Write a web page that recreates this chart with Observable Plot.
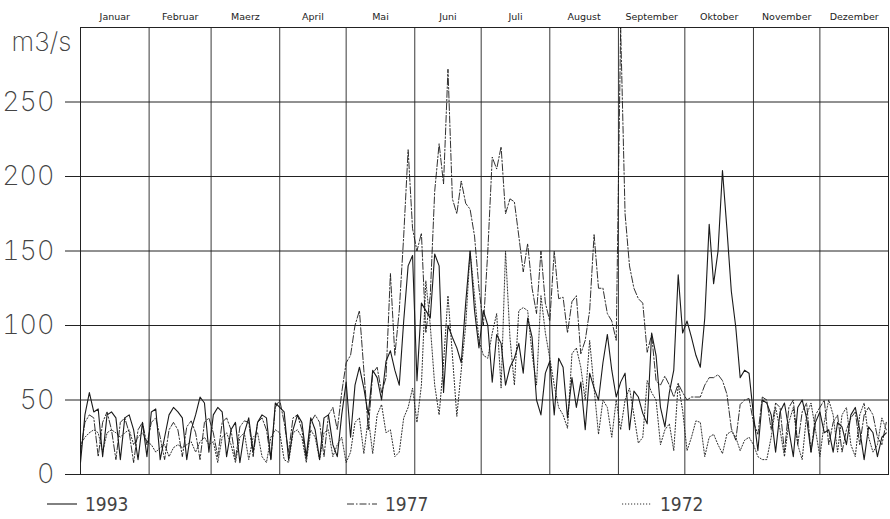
<!DOCTYPE html>
<html>
<head>
<meta charset="utf-8">
<script src="https://cdn.jsdelivr.net/npm/d3@7"></script>
<script src="https://cdn.jsdelivr.net/npm/@observablehq/plot@0.6"></script>
<style>
  html, body { margin: 0; padding: 0; background: #fff; }
  #wrap { position: relative; width: 890px; height: 519px; }
  #chart svg { display: block; }
  #legend { position: absolute; left: 0; top: 494px; width: 890px; height: 25px;
            font-family: "DejaVu Sans Condensed", "Liberation Sans Narrow", sans-serif; font-weight: 300; font-size: 19px; color: #444; }
  .item { position: absolute; top: 0px; height: 20px; line-height: 20px; display: flex; align-items: center; }
  .item svg { margin-right: 8px; }
</style>
</head>
<body>
<div id="wrap">
  <div id="chart"></div>
  <div id="legend"></div>
</div>
<script>
// Month names (top labels) and month start days (day of year)
const monthNames = ["Januar","Februar","Maerz","April","Mai","Juni","Juli","August","September","Oktober","November","Dezember"];
const monthStart = [0,31,59,90,120,151,181,212,243,273,304,334,365];
const yTicks = [0,50,100,150,200,250];
const gridY = [50,100,150,200,250,300];
const seriesNames = ["1993","1977","1972"];

const s1993 = [
  // Jan
  8,40,55,42,44,12,40,42,38,10,38,40,30,10,35,12,
  // Feb
  42,44,10,25,40,45,42,38,10,30,40,52,48,15,
  // Mar
  40,45,42,12,30,35,8,28,38,15,35,40,38,10,48,
  // Apr
  45,42,10,30,40,35,12,38,30,10,38,40,20,12,40,
  // May
  62,25,60,72,58,40,70,65,50,76,83,70,60,103,140,147,
  // Jun
  63,115,110,105,148,140,55,100,92,85,75,115,150,110,85,
  // Jul
  110,100,62,94,88,60,72,78,88,68,105,92,50,40,68,
  // Aug
  76,40,78,72,38,65,45,62,30,68,58,50,75,94,70,52,
  // Sep
  62,68,30,56,52,41,34,95,80,45,32,55,70,134,95,
  // Oct
  103,92,80,72,105,168,128,150,204,165,123,99,65,70,68,
  // Nov
  40,16,50,48,40,15,42,48,30,12,45,50,38,15,35,
  // Dec
  42,28,30,15,35,32,20,40,45,30,10,32,28,12,25,28
];
const s1977 = [
  15,35,40,38,12,35,42,30,10,35,38,28,8,30,35,20,
  35,38,25,10,30,35,30,12,32,36,28,10,35,38,
  28,12,35,38,30,10,32,36,35,12,35,38,30,10,45,
  50,35,15,38,40,30,10,35,40,35,12,40,45,30,55,
  75,80,100,110,70,30,68,72,55,65,135,80,110,160,218,165,
  150,162,95,120,190,222,195,272,185,175,197,182,178,160,125,
  100,150,213,205,220,175,185,183,160,136,155,125,108,150,115,
  103,150,118,119,95,116,120,81,90,110,161,125,125,108,103,90,
  300,175,140,125,118,115,82,94,63,60,66,60,52,61,55,
  50,52,52,52,60,65,65,67,63,54,31,23,47,50,51,
  35,27,52,50,30,48,45,15,45,50,20,42,48,15,40,
  45,50,20,35,40,15,30,38,42,20,40,45,40,25,20,35
];
const s1972 = [
  20,25,28,30,28,15,28,30,28,25,28,30,20,25,28,22,
  20,15,18,20,12,18,20,18,20,22,15,22,25,20,
  22,8,25,28,20,8,25,28,10,25,28,12,8,25,30,
  28,10,8,28,30,25,8,30,25,10,28,30,12,20,25,
  8,15,35,38,14,38,14,40,47,28,30,12,15,38,45,58,
  35,60,130,100,60,40,75,120,80,39,70,100,150,120,90,
  80,78,95,108,58,150,92,60,110,112,110,81,60,120,95,
  78,60,45,40,31,81,85,72,50,90,58,27,50,45,25,50,
  30,50,58,40,21,25,63,55,50,20,30,34,16,61,43,
  16,25,36,35,12,25,27,20,14,27,29,25,16,23,25,
  20,12,10,10,25,45,30,12,35,45,20,10,40,48,30,
  12,35,50,40,15,40,45,20,12,40,48,25,15,20,38,30
];

const styles = {
  "1993": {dash: null, width: 1.1},
  "1977": {dash: "7,2,1.5,2", width: 0.9},
  "1972": {dash: "1.2,1.8", width: 0.9}
};

const rows = [];
[[seriesNames[0], s1993],[seriesNames[1], s1977],[seriesNames[2], s1972]].forEach(([name, arr]) => {
  arr.forEach((v, i) => rows.push({year: name, day: i * 2, q: v}));
});
const monthMid = monthStart.slice(0, 12).map((d, i) => (d + monthStart[i + 1]) / 2);

const lineMark = (name) => Plot.line(rows.filter(r => r.year === name), {
  x: "day", y: "q", stroke: "#1a1a1a", strokeWidth: styles[name].width,
  strokeDasharray: styles[name].dash, curve: "linear", clip: true
});

const chart = Plot.plot({
  width: 890,
  height: 494,
  marginLeft: 80,
  marginRight: 2,
  marginTop: 27,
  marginBottom: 20,
  style: {background: "#fff", fontFamily: "DejaVu Sans, sans-serif"},
  x: {domain: [0, 365], axis: null},
  y: {domain: [0, 300], axis: null},
  marks: [
    Plot.ruleY(gridY, {stroke: "#222", strokeWidth: 1}),
    Plot.ruleX(monthStart, {stroke: "#222", strokeWidth: 0.9}),
    Plot.frame({stroke: "#222", strokeWidth: 1}),
    Plot.axisY({ticks: yTicks, tickSize: 15, tickPadding: 11, fontSize: 27,
      tickFormat: d => String(d), label: null,
      fontFamily: "Inter, DejaVu Sans, sans-serif", fontWeight: 200, fill: "#444", stroke: "#222"}),
    Plot.text(monthNames, {x: (d, i) => monthMid[i], text: d => d, frameAnchor: "top",
      dy: -14, fontSize: 9.5, fill: "#222", fontFamily: "DejaVu Sans, sans-serif"}),
    Plot.text(["m3/s"], {frameAnchor: "top-left", dx: -39, dy: 5, textAnchor: "middle",
      fontSize: 26, fill: "#444", fontWeight: 200, fontFamily: "Inter, DejaVu Sans, sans-serif"}),
    lineMark("1972"),
    lineMark("1977"),
    lineMark("1993")
  ]
});
document.getElementById("chart").appendChild(chart);

// legend below the chart
const legend = document.getElementById("legend");
const legendPos = {"1993": 47, "1977": 347, "1972": 622};
seriesNames.forEach(name => {
  const div = document.createElement("div");
  div.className = "item";
  div.style.left = legendPos[name] + "px";
  const st = styles[name];
  div.innerHTML = `<svg width="30" height="10"><line x1="0" y1="5" x2="30" y2="5" stroke="#1a1a1a" stroke-width="${st.width}" ${st.dash ? `stroke-dasharray="${st.dash}"` : ""}/></svg><span>${name}</span>`;
  legend.appendChild(div);
});
</script>
</body>
</html>
